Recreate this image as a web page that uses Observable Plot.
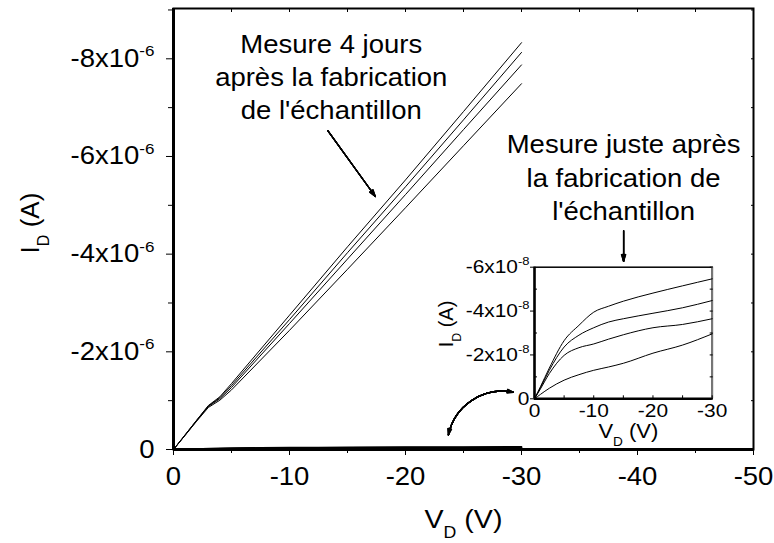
<!DOCTYPE html>
<html><head><meta charset="utf-8">
<script src="https://cdn.jsdelivr.net/npm/d3@7"></script>
<script src="https://cdn.jsdelivr.net/npm/@observablehq/plot@0.6"></script>
<style>
body{margin:0;background:#fff;}
#wrap{position:relative;width:774px;height:543px;}
#inset{position:absolute;left:400px;top:240px;}
</style></head><body><div id="wrap"><div id="main"></div><div id="inset"></div></div>
<script>
// ---- main chart data: I_D (in 1e-6 A) vs V_D (V), measured 4 days after fabrication
const vMain = [0, -1, -2, -3, -4, -5, -10, -15, -20, -25, -30];
const iDay4a = [0, -0.30, -0.60, -0.90, -1.08, -1.35, -2.75, -4.15, -5.52, -6.92, -8.33];
const iDay4b = [0, -0.30, -0.60, -0.89, -1.06, -1.31, -2.66, -4.03, -5.38, -6.75, -8.13];
const iDay4c = [0, -0.29, -0.59, -0.88, -1.04, -1.27, -2.58, -3.90, -5.22, -6.55, -7.875];
const iDay4d = [0, -0.29, -0.58, -0.86, -1.01, -1.22, -2.44, -3.69, -4.95, -6.22, -7.49];

// ---- inset data: I_D (in 1e-8 A) vs V_D (V), measured just after fabrication
const vInset = [0, -1, -2.5, -5, -7.5, -10, -12.5, -15, -20, -25, -30];
const iDay0a = [0, -0.55, -1.40, -2.65, -3.35, -3.95, -4.22, -4.45, -4.82, -5.15, -5.47];
const iDay0b = [0, -0.50, -1.30, -2.36, -2.90, -3.24, -3.50, -3.65, -3.90, -4.15, -4.48];
const iDay0c = [0, -0.45, -1.15, -1.98, -2.33, -2.50, -2.72, -2.92, -3.24, -3.39, -3.65];
const iDay0d = [0, -0.20, -0.48, -0.85, -1.10, -1.30, -1.45, -1.62, -2.08, -2.45, -2.96];

// ---- ticks
const xMajor = [0, -10, -20, -30, -40, -50];
const xMinor = [-5, -15, -25, -35, -45];
const yMajor = [0, -2e-6, -4e-6, -6e-6, -8e-6];
const yMinor = [-1e-6, -3e-6, -5e-6, -7e-6, -9e-6];
const xInMajor = [0, -10, -20, -30];
const xInMinor = [-5, -15, -25];
const yInMajor = [0, -2e-8, -4e-8, -6e-8];
const yInMinor = [-1e-8, -3e-8, -5e-8];

// ---- texts
const xLabel = "V_D (V)";
const yLabel = "I_D (A)";
const note4 = "Mesure 4 jours\naprès la fabrication\nde l'échantillon";
const note0 = "Mesure juste après\nla fabrication de\nl'échantillon";

const FONT = '"Liberation Sans", Arial, Helvetica, sans-serif';
const STRETCH = 1.1;
const fmtX = d => d === 0 ? "0" : String(d);
const fmtExp = e => d => d === 0 ? "0" : `${Math.round(d / Math.pow(10, e))}x10^${e}`;

const rows = (xs, series, k) => series.flatMap((arr, s) => xs.map((v, i) => ({v, i: arr[i] * k, s})));
const mainRows = rows(vMain, [iDay4a, iDay4b, iDay4c, iDay4d], 1e-6);
const insetRowsMain = rows(vInset, [iDay0a, iDay0b, iDay0c, iDay0d], 1e-8);

// annotations (data coordinates)
const notes = [
  {x: -13.6, y: -7.66e-6, t: note4},
  {x: -38.8, y: -5.60e-6, t: note0}
];
const arrows = [
  {x1: -13.3, y1: -6.53e-6, x2: -17.4, y2: -5.18e-6},
  {x1: -38.8, y1: -4.48e-6, x2: -38.8, y2: -3.85e-6}
];
const curve = [{x1: -23.7, y1: -0.30e-6, x2: -29.3, y2: -1.17e-6}];
const headAngles = [0, 6, 12, 18, 24, 30, 36];

const main = Plot.plot({
  width: 774, height: 543,
  marginLeft: 173, marginRight: 21, marginTop: 8, marginBottom: 94,
  style: {fontFamily: FONT, background: "white", color: "black", overflow: "visible"},
  x: {domain: [0, -50]},
  y: {domain: [0, -9.03e-6]},
  marks: [
    Plot.frame({strokeWidth: 2}),
    Plot.ruleX([0], {strokeWidth: 3}),
    Plot.ruleY([0], {strokeWidth: 3}),
    Plot.axisX(xMajor, {anchor: "bottom", tickSize: 6, tickPadding: 12, fontSize: 25, tickFormat: fmtX, label: null}),
    Plot.axisX(xMinor, {anchor: "bottom", tickSize: 4, tickFormat: () => "", label: null}),
    Plot.axisX([...xMajor, ...xMinor], {anchor: "top", tickSize: -3, tickFormat: () => "", label: null}),
    Plot.axisY(yMajor, {anchor: "left", tickSize: 7, tickPadding: 12, fontSize: 25, tickFormat: fmtExp(-6), label: null}),
    Plot.axisY(yMinor, {anchor: "left", tickSize: 5, tickFormat: () => "", label: null}),
    Plot.axisY([...yMajor, ...yMinor], {anchor: "right", tickSize: -3, tickFormat: () => "", label: null}),
    Plot.line(insetRowsMain, {x: "v", y: "i", z: "s", stroke: "black", strokeWidth: 1.6}),
    Plot.line(mainRows, {x: "v", y: "i", z: "s", stroke: "black", strokeWidth: 1}),
    Plot.text(notes, {x: "x", y: "y", text: "t", fontSize: 25, lineHeight: 1.33, textAnchor: "middle"}),
    ...headAngles.map(a => Plot.arrow(arrows, {x1: "x1", y1: "y1", x2: "x2", y2: "y2", headLength: 9, headAngle: a, strokeWidth: 1.2})),
    ...headAngles.map(a => Plot.arrow(curve, {x1: "x1", y1: "y1", x2: "x2", y2: "y2", bend: 45, headLength: 8, headAngle: a, strokeWidth: 1.2})),
    ...headAngles.map(a => Plot.arrow(curve, {x1: "x2", y1: "y2", x2: "x1", y2: "y1", bend: -45, headLength: 8, headAngle: a, strokeWidth: 1.2})),
    Plot.text([xLabel], {frameAnchor: "bottom", dy: 70, lineAnchor: "middle", textAnchor: "middle", text: d => d, fontSize: 26}),
    Plot.text([yLabel], {frameAnchor: "left", dx: -143, dy: -6, rotate: -90, lineAnchor: "middle", textAnchor: "middle", text: d => d, fontSize: 26})
  ]
});

const insetRows = rows(vInset, [iDay0a, iDay0b, iDay0c, iDay0d], 1e-8);
const inset = Plot.plot({
  width: 360, height: 210,
  marginLeft: 134, marginRight: 48.3, marginTop: 26.7, marginBottom: 51.7,
  style: {fontFamily: FONT, background: "transparent", color: "black", overflow: "visible"},
  x: {domain: [0, -30]},
  y: {domain: [0, -6e-8]},
  marks: [
    Plot.frame({strokeWidth: 1.5}),
    Plot.ruleX([-30], {stroke: "#777", strokeWidth: 2}),
    Plot.ruleX([0], {strokeWidth: 2.5}),
    Plot.ruleY([0], {strokeWidth: 2.5}),
    Plot.axisX(xInMajor, {anchor: "bottom", tickSize: 0, tickPadding: 5, fontSize: 19, tickFormat: fmtX, label: null}),
    Plot.axisX([...xInMajor, ...xInMinor], {anchor: "bottom", tickSize: -3, tickFormat: () => "", label: null}),
    Plot.axisY(yInMajor, {anchor: "left", tickSize: 4, tickPadding: 1, fontSize: 19, tickFormat: fmtExp(-8), label: null}),
    Plot.axisY(yInMinor, {anchor: "left", tickSize: -3, tickFormat: () => "", label: null}),
    Plot.axisY([...yInMajor, ...yInMinor], {anchor: "right", tickSize: -3, tickFormat: () => "", label: null}),
    Plot.line(insetRows, {x: "v", y: "i", z: "s", stroke: "black", strokeWidth: 1, curve: "monotone-x"}),
    Plot.text([xLabel], {frameAnchor: "bottom", dx: 5, dy: 33, lineAnchor: "middle", textAnchor: "middle", text: d => d, fontSize: 20}),
    Plot.text([yLabel], {frameAnchor: "left", dx: -88, dy: -9, rotate: -90, lineAnchor: "middle", textAnchor: "middle", text: d => d, fontSize: 20})
  ]
});

document.getElementById("main").appendChild(main);
document.getElementById("inset").appendChild(inset);

// sub/superscripts as real text via tspans, and slight horizontal stretch of the glyphs
const NS = "http://www.w3.org/2000/svg";
function tsp(txt, attrs) {
  const s = document.createElementNS(NS, "tspan");
  s.textContent = txt;
  for (const k in attrs) s.setAttribute(k, attrs[k]);
  return s;
}
function fontPx(t) {
  let el = t;
  while (el && el.nodeType === 1) {
    const f = el.getAttribute("font-size");
    if (f) return parseFloat(f);
    el = el.parentNode;
  }
  return 20;
}
[main, inset].forEach(svg => {
  svg.querySelectorAll("text").forEach(t => {
    const tr = t.getAttribute("transform");
    if (tr && tr.includes("translate") && !tr.includes("rotate")) t.setAttribute("transform", tr + ` scale(${STRETCH},1)`);
    if (t.querySelector("tspan")) return;
    const s = t.textContent;
    const fs = fontPx(t);
    if (s.includes("^")) {
      const [base, ex] = s.split("^");
      t.textContent = "";
      t.appendChild(tsp(base, {}));
      t.appendChild(tsp(ex, {dy: (-0.42 * fs).toFixed(1), "font-size": (0.62 * fs).toFixed(1)}));
    } else if (s.includes("_")) {
      const i = s.indexOf("_");
      const a = s.slice(0, i), sub = s[i + 1], rest = s.slice(i + 2);
      const sh = 0.38 * fs;
      t.textContent = "";
      t.appendChild(tsp(a, {}));
      t.appendChild(tsp(sub, {dy: sh.toFixed(1), "font-size": (0.62 * fs).toFixed(1)}));
      t.appendChild(tsp(rest, {dy: (-sh).toFixed(1)}));
    }
  });
});
</script>
</body></html>
